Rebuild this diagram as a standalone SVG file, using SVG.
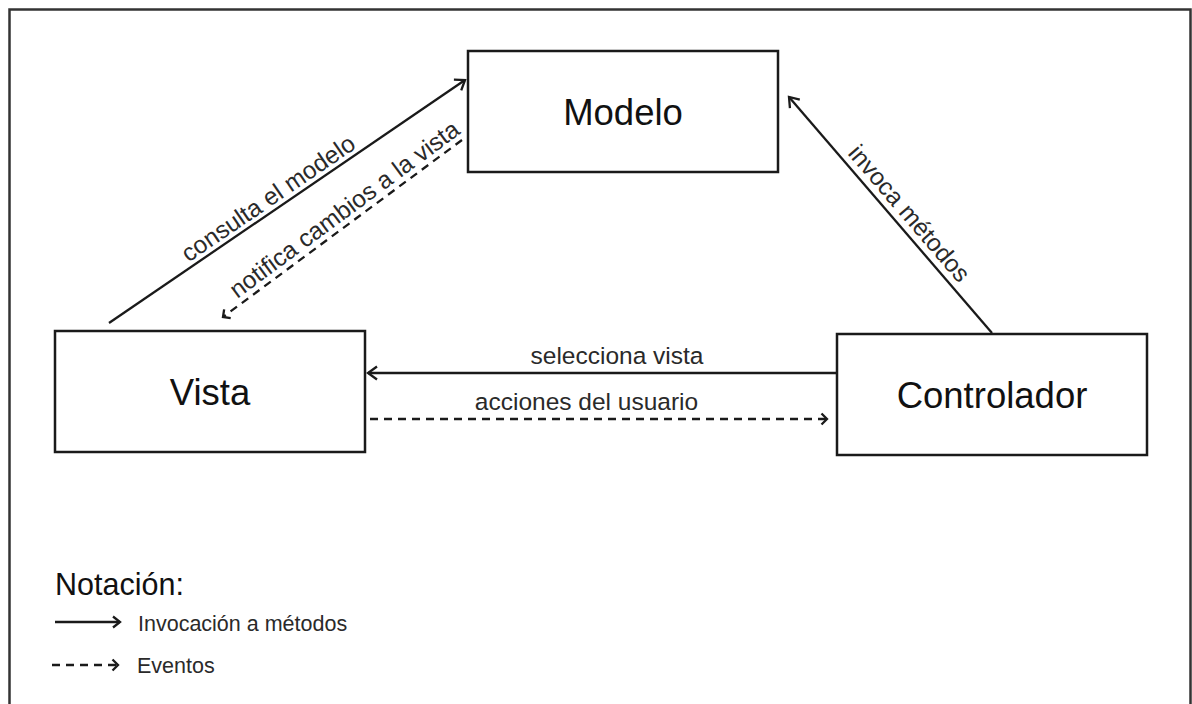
<svg xmlns="http://www.w3.org/2000/svg" width="1192" height="704" viewBox="0 0 1192 704">
  <style>
    .box { fill: #ffffff; stroke: #1a1a1a; stroke-width: 2.5; }
    .title { font-family: "Liberation Sans", Arial, sans-serif; font-size: 36.5px; fill: #111111; text-anchor: middle; }
    .lbl { font-family: "Liberation Sans", Arial, sans-serif; font-size: 24.5px; fill: #2a2a2a; text-anchor: middle; }
    .legend { font-family: "Liberation Sans", Arial, sans-serif; font-size: 21.5px; fill: #2a2a2a; }
    .call { fill: none; stroke: #1a1a1a; stroke-width: 2.3; marker-end: url(#open); }
    .event { fill: none; stroke: #1a1a1a; stroke-width: 2.3; stroke-dasharray: 8 6; marker-end: url(#openSmall); }
  </style>
  <defs>
    <marker id="open" markerUnits="userSpaceOnUse" markerWidth="14" markerHeight="16" refX="11" refY="8" orient="auto">
      <path d="M2,1.5 L11,8 L2,14.5" fill="none" stroke="#1a1a1a" stroke-width="2.3"/>
    </marker>
    <marker id="openMid" markerUnits="userSpaceOnUse" markerWidth="12" markerHeight="14" refX="9" refY="7" orient="auto">
      <path d="M2,1.5 L9,7 L2,12.5" fill="none" stroke="#1a1a1a" stroke-width="2.3"/>
    </marker>
    <marker id="openSmall" markerUnits="userSpaceOnUse" markerWidth="10" markerHeight="14" refX="7" refY="7" orient="auto">
      <path d="M1.5,1.5 L7,7 L1.5,12.5" fill="none" stroke="#1a1a1a" stroke-width="2.3"/>
    </marker>
  </defs>

  <rect width="1192" height="704" fill="#ffffff"/>
  <!-- frame -->
  <rect x="9.5" y="9.5" width="1181" height="720" fill="none" stroke="#333333" stroke-width="2.5"/>

  <g id="connectors">
    <line class="call" x1="109" y1="323" x2="465" y2="80"/>
    <line class="event" x1="462" y1="140" x2="223" y2="317"/>
    <line class="call" x1="992" y1="333" x2="789" y2="97"/>
    <line class="call" x1="837" y1="373" x2="368" y2="373"/>
    <line class="event" x1="370" y1="419" x2="827" y2="419"/>

    <text class="lbl" transform="translate(275.7,209.2) rotate(-34.3)" y="-5">consulta el modelo</text>
    <text class="lbl" transform="translate(352.9,220.8) rotate(-36.5)" y="-6">notifica cambios a la vista</text>
    <text class="lbl" transform="translate(897.7,223.4) rotate(49.3)" y="-7">invoca métodos</text>
    <text class="lbl" x="617" y="364">selecciona vista</text>
    <text class="lbl" x="586.5" y="410">acciones del usuario</text>
  </g>

  <g id="modelo">
    <rect class="box" x="468" y="51" width="310" height="121"/>
    <text class="title" x="623" y="125">Modelo</text>
  </g>

  <g id="vista">
    <rect class="box" x="55" y="331" width="310" height="121"/>
    <text class="title" x="210" y="405">Vista</text>
  </g>

  <g id="controlador">
    <rect class="box" x="837" y="334" width="310" height="121"/>
    <text class="title" x="992" y="408">Controlador</text>
  </g>

  <g id="notacion">
    <text class="legend" x="55" y="595" style="font-size:30.5px;fill:#111111">Notación:</text>
    <line class="call" x1="55" y1="622" x2="120" y2="622" style="marker-end:url(#openMid)"/>
    <text class="legend" x="138" y="631">Invocación a métodos</text>
    <line class="event" x1="52" y1="665" x2="118" y2="665"/>
    <text class="legend" x="137" y="673">Eventos</text>
  </g>
</svg>
